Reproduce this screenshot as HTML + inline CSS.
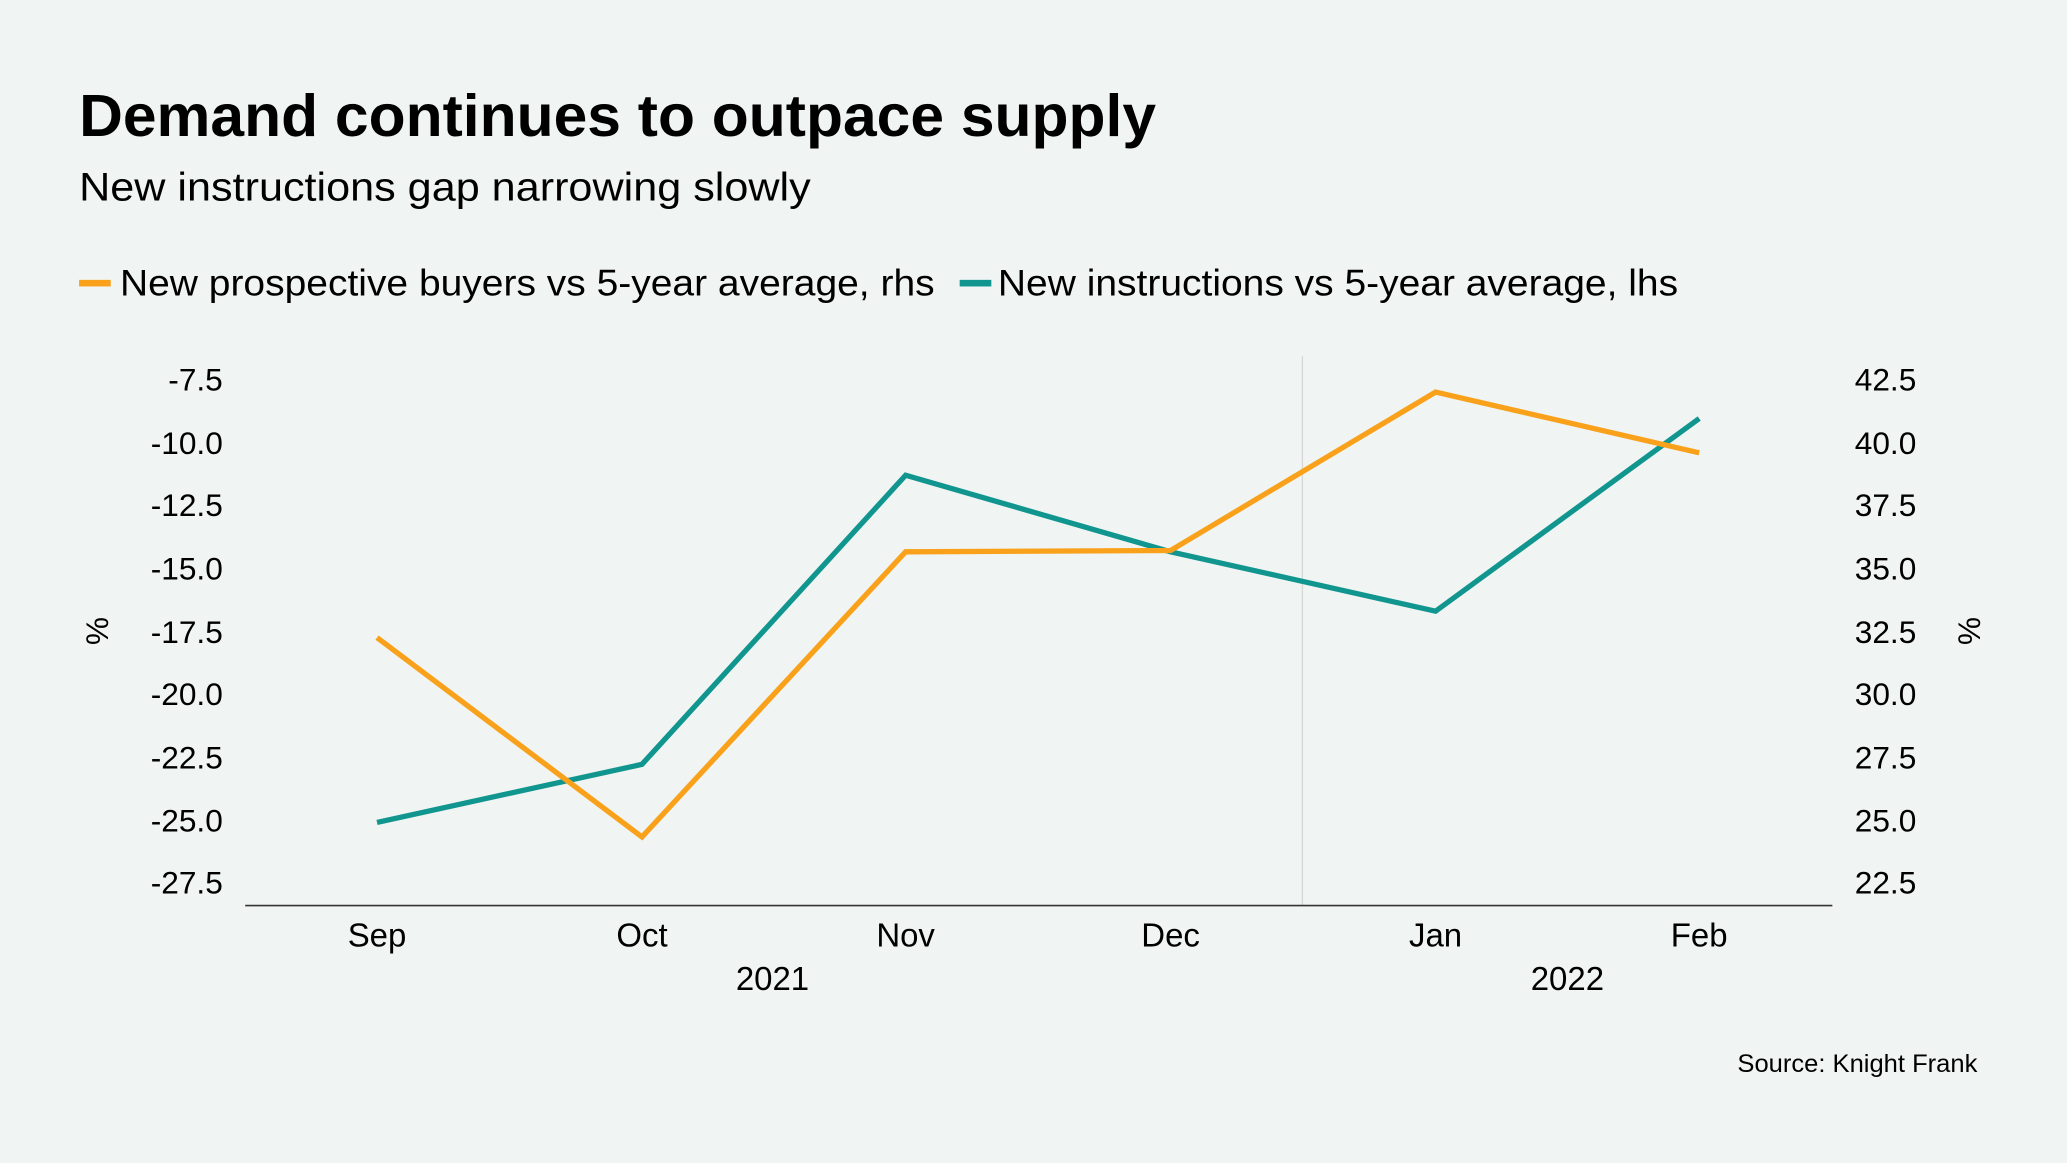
<!DOCTYPE html>
<html><head><meta charset="utf-8"><style>
html,body{margin:0;padding:0;background:#f0f4f2;}
svg{display:block;font-family:"Liberation Sans",Arial,sans-serif;}
</style></head><body>
<svg width="2067" height="1163" viewBox="0 0 1568 881" preserveAspectRatio="none" xmlns="http://www.w3.org/2000/svg">
<rect width="1568" height="881" fill="#f0f4f2"/>
<text x="60" y="103" font-size="45" font-weight="bold" fill="#000" textLength="817" lengthAdjust="spacingAndGlyphs">Demand continues to outpace supply</text>
<text x="60" y="152" font-size="30" fill="#000" textLength="555" lengthAdjust="spacingAndGlyphs">New instructions gap narrowing slowly</text>
<rect x="60" y="212" width="24" height="5" fill="#f9a11b"/>
<text x="91" y="224" font-size="28" fill="#000" textLength="618" lengthAdjust="spacingAndGlyphs">New prospective buyers vs 5-year average, rhs</text>
<rect x="728" y="212" width="24" height="5" fill="#10958f"/>
<text x="757" y="224" font-size="28" fill="#000" textLength="516" lengthAdjust="spacingAndGlyphs">New instructions vs 5-year average, lhs</text>
<g font-size="24" fill="#000" text-anchor="end">
<text x="169" y="296">-7.5</text><text x="169" y="344">-10.0</text><text x="169" y="391">-12.5</text><text x="169" y="439">-15.0</text><text x="169" y="487">-17.5</text><text x="169" y="534">-20.0</text><text x="169" y="582">-22.5</text><text x="169" y="630">-25.0</text><text x="169" y="677">-27.5</text>
</g>
<g font-size="24" fill="#000" text-anchor="start">
<text x="1407" y="296">42.5</text><text x="1407" y="344">40.0</text><text x="1407" y="391">37.5</text><text x="1407" y="439">35.0</text><text x="1407" y="487">32.5</text><text x="1407" y="534">30.0</text><text x="1407" y="582">27.5</text><text x="1407" y="630">25.0</text><text x="1407" y="677">22.5</text>
</g>
<text transform="translate(82,478) rotate(-90)" font-size="24" text-anchor="middle">%</text>
<text transform="translate(1502,478) rotate(-90)" font-size="24" text-anchor="middle">%</text>
<line x1="988" y1="270" x2="988" y2="686" stroke="#d4d8d6" stroke-width="1"/>
<line x1="186" y1="686" x2="1390" y2="686" stroke="#333" stroke-width="1.2"/>
<g font-size="25" fill="#000" text-anchor="middle">
<text x="286" y="717">Sep</text><text x="487" y="717">Oct</text><text x="687" y="717">Nov</text><text x="888" y="717">Dec</text><text x="1089" y="717">Jan</text><text x="1289" y="717">Feb</text>
<text x="586" y="750">2021</text><text x="1189" y="750">2022</text>
</g>
<polyline points="286,623 487,579 687,360 888,418 1089,463 1289,317" fill="none" stroke="#10958f" stroke-width="4" stroke-linejoin="miter"/>
<polyline points="286,483 487,634 687,418 888,417 1089,297 1289,343" fill="none" stroke="#f9a11b" stroke-width="4" stroke-linejoin="miter"/>
<text x="1500" y="812" font-size="19" text-anchor="end" fill="#000" textLength="182" lengthAdjust="spacingAndGlyphs">Source: Knight Frank</text>
</svg>
</body></html>
